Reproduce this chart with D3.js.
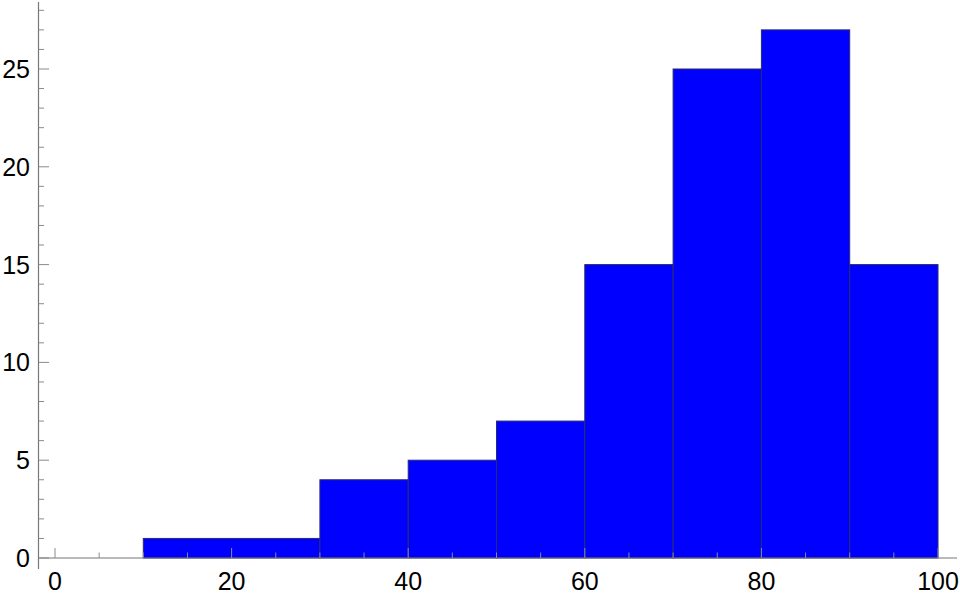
<!DOCTYPE html>
<html>
<head>
<meta charset="utf-8">
<script src="https://cdn.jsdelivr.net/npm/d3@7"></script>
<style>
  body { margin: 0; background: #fff; }
  text { font-family: "Liberation Sans", Arial, sans-serif; }
</style>
</head>
<body>
<div id="chart"></div>
<script>
// bin edges and counts
var binEdges = [10, 30, 40, 50, 60, 70, 80, 90, 100];
var counts = [1, 4, 5, 7, 15, 25, 27, 15];
var xTicks = [0, 20, 40, 60, 80, 100];
var yTicks = [0, 5, 10, 15, 20, 25];

var w = 960, h = 596;

var bins = counts.map(function (c, i) {
  return { x0: binEdges[i], x1: binEdges[i + 1], count: c };
});

// x: 0 -> 55px, 100 -> 938px ; y: 0 -> 558px, 25 -> 69px
var xScale = d3.scaleLinear().domain([0, 100]).range([55, 938]);
var yScale = d3.scaleLinear().domain([0, 25]).range([558, 69]);

var svg = d3.select("#chart").append("svg")
  .attr("width", w)
  .attr("height", h);

var axisColor = "#777";

// bars
svg.append("g").selectAll("rect")
  .data(bins)
  .enter().append("rect")
  .attr("x", d => xScale(d.x0))
  .attr("y", d => yScale(d.count))
  .attr("width", d => xScale(d.x1) - xScale(d.x0))
  .attr("height", d => yScale(0) - yScale(d.count))
  .attr("fill", "#0000ff")
  .attr("stroke", "#2b2b70")
  .attr("stroke-width", 1);

// x axis line
var y0 = yScale(0);
svg.append("line")
  .attr("x1", 38).attr("x2", 957)
  .attr("y1", y0).attr("y2", y0)
  .attr("stroke", axisColor).attr("stroke-width", 1.2);

// y axis line
svg.append("line")
  .attr("x1", 38.5).attr("x2", 38.5)
  .attr("y1", 2).attr("y2", 569)
  .attr("stroke", axisColor).attr("stroke-width", 1.2);

// x ticks (minor every 5, major every 20)
var xMinor = d3.range(0, 101, 5);
svg.append("g").selectAll("line")
  .data(xMinor)
  .enter().append("line")
  .attr("x1", d => xScale(d)).attr("x2", d => xScale(d))
  .attr("y1", y0)
  .attr("y2", d => y0 - (d % 20 === 0 ? 10 : 5.5))
  .attr("stroke", "#8a8a9a").attr("stroke-width", 1);

svg.append("g").selectAll("text")
  .data(xTicks)
  .enter().append("text")
  .attr("x", d => xScale(d))
  .attr("y", 590)
  .attr("text-anchor", "middle")
  .attr("font-size", 25)
  .attr("fill", "#000")
  .text(d => d);

// y ticks (minor every 1, major every 5)
var yMinor = d3.range(0, 29, 1);
svg.append("g").selectAll("line")
  .data(yMinor)
  .enter().append("line")
  .attr("x1", 38.5)
  .attr("x2", d => 38.5 + (d % 5 === 0 ? 10.5 : 5.5))
  .attr("y1", d => yScale(d)).attr("y2", d => yScale(d))
  .attr("stroke", "#8a8a8a").attr("stroke-width", 1);

svg.append("g").selectAll("text")
  .data(yTicks)
  .enter().append("text")
  .attr("x", 30)
  .attr("y", d => yScale(d))
  .attr("dy", "0.36em")
  .attr("text-anchor", "end")
  .attr("font-size", 25)
  .attr("fill", "#000")
  .text(d => d);
</script>
</body>
</html>
